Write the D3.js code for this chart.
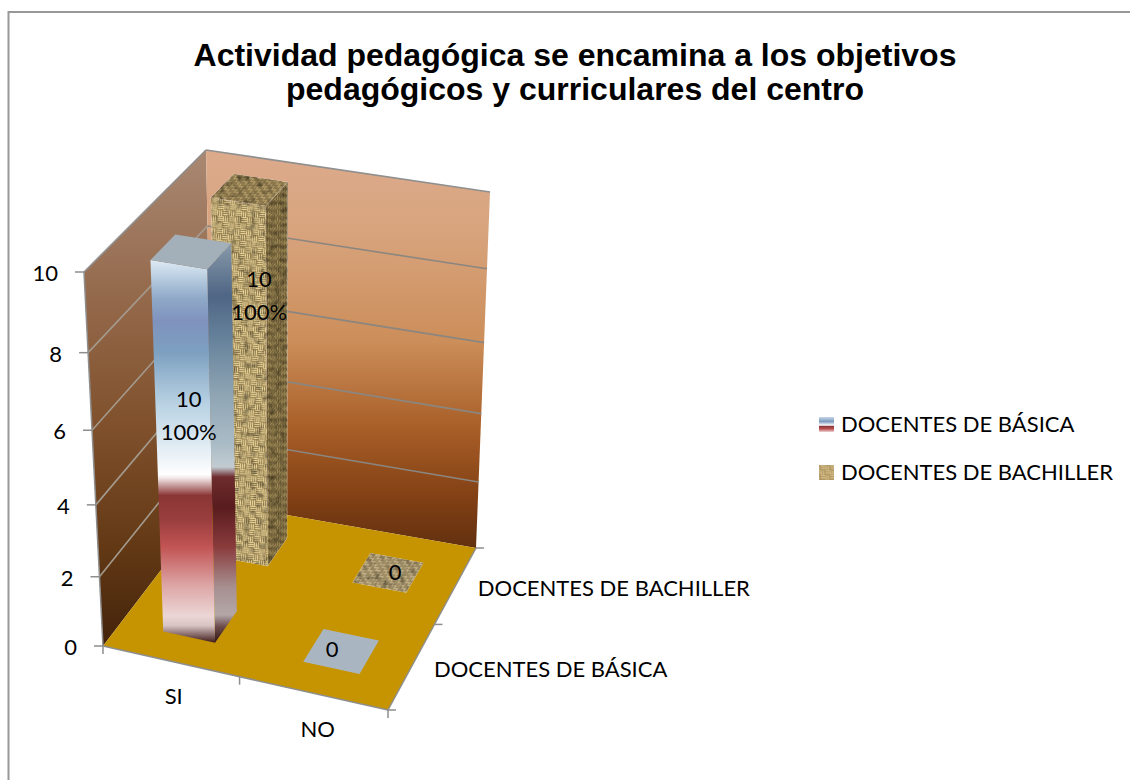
<!DOCTYPE html>
<html><head><meta charset="utf-8">
<script src="https://cdnjs.cloudflare.com/ajax/libs/d3/7.8.5/d3.min.js"></script>
<style>html,body{margin:0;padding:0;background:#fff}svg{display:block}</style></head>
<body><svg id="c" width="1130" height="780"></svg>
<script>
const categories = ["SI", "NO"];
const seriesNames = ["DOCENTES DE BÁSICA", "DOCENTES DE BACHILLER"];
const basica = [10, 0];
const bachiller = [10, 0];
const percentLabels = ["100%", ""];
const titleLines = ["Actividad pedagógica se encamina a los objetivos", "pedagógicos y curriculares del centro"];
const yTicks = [0, 2, 4, 6, 8, 10];

const svg = d3.select("#c");
const defs = svg.append("defs");

// projective frame of the 3D box
const floorQuad = [[103,646],[388,710],[476,548],[213,502]]; // u0w0,u1w0,u1w1,u0w1
const topQuad = [[84,272],[388,322],[490,192],[206,150]];
function homography(q){
  const [[x0,y0],[x1,y1],[x2,y2],[x3,y3]] = q;
  const dx1=x1-x2,dx2=x3-x2,sx=x0-x1+x2-x3,dy1=y1-y2,dy2=y3-y2,sy=y0-y1+y2-y3;
  const den=dx1*dy2-dx2*dy1;
  const g=(sx*dy2-dx2*sy)/den,h=(dx1*sy-sx*dy1)/den;
  const a=x1-x0+g*x1,b=x3-x0+h*x3,d=y1-y0+g*y1,e=y3-y0+h*y3;
  return (u,w)=>{const t=g*u+h*w+1;return [(a*u+b*w+x0)/t,(d*u+e*w+y0)/t];};
}
const hFloor=homography(floorQuad), hTop=homography(topQuad);
const yScale=d3.scaleLinear().domain([0,10]).range([0,1]);
const persp=v=>v/(v+1.1*(1-v));
function project(u,w,val){
  const t=persp(yScale(val)),a=hFloor(u,w),b=hTop(u,w);
  return [a[0]+(b[0]-a[0])*t,a[1]+(b[1]-a[1])*t];
}
const xBand=d3.scaleBand().domain(categories).range([0,1]).paddingInner(.62).paddingOuter(.3).align(.53);
const zBand=d3.scaleBand().domain(seriesNames).range([0,1]).paddingInner(.6).paddingOuter(.3);
const line=d3.line();
const poly=pts=>line(pts)+"Z";

function grad(id,stops,attrs={x1:0,y1:0,x2:0,y2:1}){
  const g=defs.append("linearGradient").attr("id",id);
  Object.entries(attrs).forEach(([k,v])=>g.attr(k,v));
  stops.forEach(([o,c])=>g.append("stop").attr("offset",o).attr("stop-color",c));
}
grad("wallBack",[[0,"#dcab8c"],[.2,"#d8a47e"],[.48,"#cc8e5a"],[.7,"#a85e27"],[.88,"#803f14"],[1,"#62300f"]]);
grad("wallLeft",[[0,"#a98873"],[.3,"#94694b"],[.55,"#80512c"],[.8,"#633915"],[1,"#43230a"]]);
const frontStops=[[0,"#dfeaf3"],[.03,"#c6d8e8"],[.1,"#8fa9c8"],[.16,"#7f92bd"],[.24,"#7da0c0"],[.38,"#bad3e4"],[.5,"#e6eff5"],[.56,"#ffffff"],[.57,"#f2e6e6"],[.615,"#8b3636"],[.68,"#9a3e3e"],[.75,"#c25454"],[.85,"#dda5a5"],[.93,"#ecd6d6"],[.955,"#d8c4c4"],[1,"#3f1a1a"]];
const sideStops=[[0,"#8a9bab"],[.03,"#7b8ea1"],[.13,"#4f6685"],[.24,"#66829b"],[.38,"#8fa5b4"],[.5,"#a9bbc6"],[.56,"#c2ccd2"],[.585,"#6e2c2e"],[.66,"#591c1e"],[.76,"#8a3b3c"],[.86,"#a78f90"],[.93,"#b3a7a8"],[.96,"#6d4a4a"],[1,"#2e1414"]];
grad("barFront",frontStops);
grad("barSide",sideStops);
grad("legendBlue",[[0,"#c5d8e8"],[.3,"#7f9bbe"],[.55,"#ffffff"],[.62,"#8b3636"],[.8,"#c25454"],[1,"#ecd6d6"]]);

const mottle=defs.append("filter").attr("id","mottle").attr("x",0).attr("y",0).attr("width",1).attr("height",1);
mottle.append("feGaussianBlur").attr("in","SourceGraphic").attr("stdDeviation",.4).attr("result","s");
mottle.append("feTurbulence").attr("type","fractalNoise").attr("baseFrequency",.16).attr("numOctaves",2).attr("seed",4).attr("result","n");
mottle.append("feColorMatrix").attr("in","n").attr("type","matrix")
  .attr("values","1.6 0 0 0 .1  1.6 0 0 0 .1  1.6 0 0 0 .1  0 0 0 0 1").attr("result","m");
mottle.append("feBlend").attr("in","s").attr("in2","m").attr("mode","multiply").attr("result","b");
mottle.append("feComposite").attr("in","b").attr("in2","s").attr("operator","in");

function weave(id,base,light,dark,tf){
  const p=defs.append("pattern").attr("id",id).attr("patternUnits","userSpaceOnUse")
    .attr("width",12).attr("height",12).attr("patternTransform",tf);
  p.append("rect").attr("width",12).attr("height",12).attr("fill",base);
  const cells=[[0,0,1],[6,0,0],[0,6,0],[6,6,1]];
  cells.forEach(([cx,cy,hor])=>{
    for(let i=0;i<3;i++){
      const off=.2+i*2;
      if(hor){
        p.append("rect").attr("x",cx+.3).attr("y",cy+off).attr("width",5.4).attr("height",1.3).attr("fill",light);
        p.append("rect").attr("x",cx).attr("y",cy+off+1.3).attr("width",6).attr("height",.5).attr("fill",dark);
      }else{
        p.append("rect").attr("x",cx+off).attr("y",cy+.3).attr("width",1.3).attr("height",5.4).attr("fill",light);
        p.append("rect").attr("x",cx+off+1.3).attr("y",cy).attr("width",.5).attr("height",6).attr("fill",dark);
      }
    }
  });
}
weave("burlapFront","#a98c52","#f8e8ae","#6f5830","rotate(3)");
weave("burlapSide","#75623a","#a8935c","#3a2e16","scale(.45,.6) skewY(-45)");
weave("burlapTop","#8a7548","#c2ab74","#4a3a1e","scale(.65,.45) skewX(-30)");
weave("burlapFlat","#a08c60","#cdbc92","#665435","scale(.65,.5) skewX(-30)");
weave("burlapLegend","#b89c64","#dcc690","#8a7040","scale(.8)");

const g=svg.append("g");
// chart frame: only its top and left edges fall inside the picture
g.append("path").attr("d",line([[8.5,780],[8.5,12],[1130,12]])).attr("fill","none").attr("stroke","#989898").attr("stroke-width",2);

// walls and floor
g.append("path").attr("d",poly([project(0,0,10),project(0,1,10),project(0,1,0),project(0,0,0)])).attr("fill","url(#wallLeft)");
g.append("path").attr("d",poly([project(0,1,10),project(1,1,10),project(1,1,0),project(0,1,0)])).attr("fill","url(#wallBack)");
g.append("path").attr("d",poly([project(0,0,0),project(1,0,0),project(1,1,0),project(0,1,0)])).attr("fill","#c59400");

// gridlines
yTicks.filter(t=>t>0).forEach(t=>{
  const top=t===10;
  g.append("path").attr("d",line([project(0,0,t),project(0,1,t)])).attr("fill","none")
    .attr("stroke",top?"#8f8f8f":"#a49a8e").attr("stroke-width",1.6);
  g.append("path").attr("d",line([project(0,1,t),project(1,1,t)])).attr("fill","none")
    .attr("stroke",top?"#8f8f8f":"#8b8680").attr("stroke-width",1.6);
});
// axes
const axisCol="#8e8e8e";
const seg=(a,b,w=1.5)=>g.append("path").attr("d",line([a,b])).attr("fill","none").attr("stroke",axisCol).attr("stroke-width",w);
seg(project(0,0,0),project(0,0,10));
seg(project(0,0,0),project(1,0,0));
seg(project(1,0,0),project(1,1,0));
yTicks.forEach(t=>{const p=project(0,0,t);seg([p[0]-9,p[1]],p);});
[0,.5,1].forEach(u=>{const p=project(u,0,0);seg(p,[p[0],p[1]+8]);});
[0,.5,1].forEach(w=>{const p=project(1,w,0);seg(p,[p[0]+8,p[1]]);});

// bars, back series first
function drawBar(cat,ser,val,st){
  const u0=xBand(cat),u1=u0+xBand.bandwidth(),w0=zBand(ser),w1=w0+zBand.bandwidth();
  const layer=st.filter?g.append("g").attr("filter","url(#mottle)"):g;
  if(val===0){
    layer.append("path").attr("d",poly([project(u0,w0,0),project(u1,w0,0),project(u1,w1,0),project(u0,w1,0)])).attr("fill",st.flat);
  }else{
    layer.append("path").attr("d",poly([project(u1,w0,0),project(u1,w1,0),project(u1,w1,val),project(u1,w0,val)])).attr("fill",st.side);
    layer.append("path").attr("d",poly([project(u0,w0,0),project(u1,w0,0),project(u1,w0,val),project(u0,w0,val)])).attr("fill",st.front);
    layer.append("path").attr("d",poly([project(u0,w0,val),project(u1,w0,val),project(u1,w1,val),project(u0,w1,val)])).attr("fill",st.top);
  }
}
const labelFont="Lato, 'Open Sans', sans-serif";
const labelSize=22;
function barLabel(cat,ser,val,pct,dx,dy){
  const u=xBand(cat)+xBand.bandwidth()/2,w=zBand(ser)+zBand.bandwidth()/2;
  const p=project(u,w,val/2);
  const t=g.append("text").attr("font-family",labelFont).attr("font-size",labelSize).attr("fill","#000").attr("text-anchor","middle");
  if(val>0){
    t.append("tspan").attr("x",p[0]+dx).attr("y",p[1]+dy).text(val);
    t.append("tspan").attr("x",p[0]+dx).attr("y",p[1]+dy+33).text(pct);
  }else{
    t.attr("x",p[0]+dx).attr("y",p[1]+dy).text(val);
  }
}
const st2={front:"url(#burlapFront)",side:"url(#burlapSide)",top:"url(#burlapTop)",flat:"url(#burlapFlat)",filter:true};
const st1={front:"url(#barFront)",side:"url(#barSide)",top:"#a3afb9",flat:"#a9b6c2"};
categories.forEach((c,i)=>drawBar(c,seriesNames[1],bachiller[i],st2));
categories.forEach((c,i)=>drawBar(c,seriesNames[0],basica[i],st1));
barLabel(categories[0],seriesNames[1],bachiller[0],percentLabels[0],8,-90);
barLabel(categories[1],seriesNames[1],bachiller[1],percentLabels[1],7,7);
barLabel(categories[0],seriesNames[0],basica[0],percentLabels[0],-7,-38);
barLabel(categories[1],seriesNames[0],basica[1],percentLabels[1],-9,6);

// axis labels
const lab=(x,y,s,anchor="middle")=>g.append("text").attr("x",x).attr("y",y).attr("font-family",labelFont)
  .attr("font-size",labelSize).attr("fill","#000").attr("text-anchor",anchor).text(s);
yTicks.forEach(t=>{const p=project(0,0,t);lab(p[0]-26,p[1]+9,t,"end");});
categories.forEach(c=>{const p=project(xBand(c)+xBand.bandwidth()/2,0,0);lab(p[0]+2,p[1]+43,c);});
seriesNames.forEach(s=>{const p=project(1,zBand(s)+zBand.bandwidth()/2,0);lab(p[0]+22,p[1]+11,s,"start");});

// title
titleLines.forEach((s,i)=>g.append("text").attr("x",575).attr("y",66+i*34).attr("text-anchor","middle")
  .attr("font-family","'Liberation Sans', Arial, sans-serif").attr("font-weight","bold").attr("font-size",32).attr("fill","#000").text(s));

// legend
const legendFills=["url(#legendBlue)","url(#burlapLegend)"];
seriesNames.forEach((s,i)=>{
  g.append("rect").attr("x",819).attr("y",417+i*48).attr("width",15).attr("height",15).attr("fill",legendFills[i]);
  lab(841,432+i*48,s,"start");
});
</script></body></html>
